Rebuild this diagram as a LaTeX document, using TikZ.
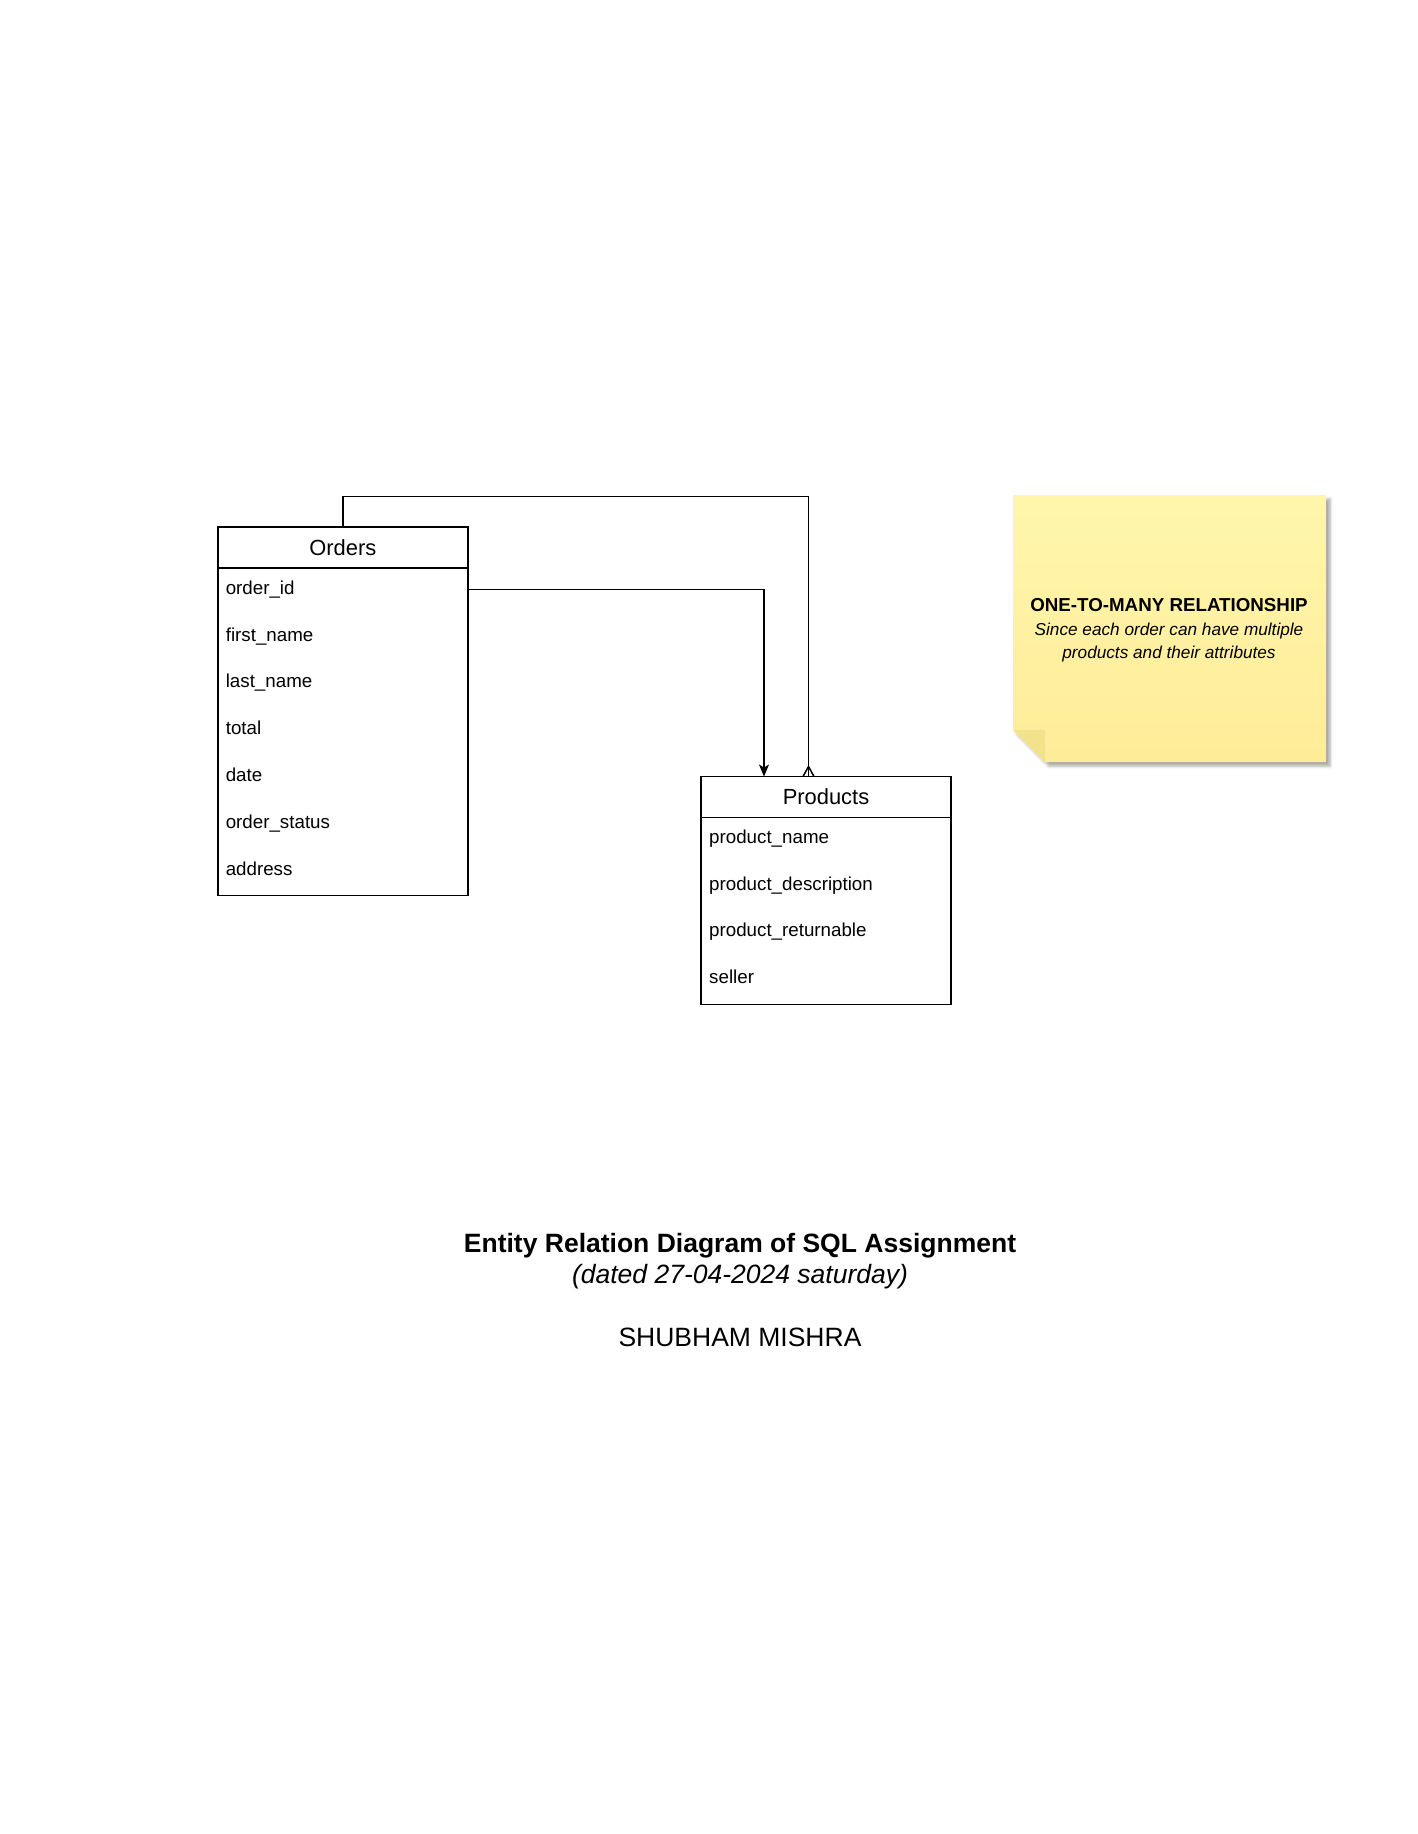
\documentclass[tikz,border=0pt]{standalone}
\usepackage{fontspec}
\setmainfont{Liberation Sans}
\usetikzlibrary{arrows.meta,calc,positioning,shadows.blur}
\usepackage{xcolor}
\definecolor{notetop}{RGB}{255,246,172}
\definecolor{notebot}{RGB}{255,236,153}
\definecolor{notefold}{RGB}{243,226,140}

\tikzset{
  entity/.style={draw,line width=1.5,outer sep=0,minimum width=250,minimum height=41,inner sep=0,
    font=\fontsize{21.9}{26}\selectfont},
  tablebody/.style={draw,line width=1.5,outer sep=0,minimum width=250,inner sep=0},
  field/.style={anchor=west,text width=234,inner xsep=8,inner ysep=0,align=left,
    text height=13.5,text depth=4,font=\fontsize{18.75}{22}\selectfont},
  link/.style={line width=1.5,black},
}

\begin{document}
\begin{tikzpicture}[x=1pt,y=-1pt]
  \useasboundingbox (0,0) rectangle (1417,1834);

  % orders table
  \node[entity] (orders) at (342.8,547.5) {Orders};
  \node[tablebody,minimum height=327.5,below=0pt of orders] (ordersbody) {};
  \foreach \f [count=\i] in {order\_id,first\_name,last\_name,total,date,order\_status,address}
    \node[field] (o\i) at (217.6,{589.5+46.8*(\i-1)}) {\f};

  % products table
  \node[entity] (products) at (826,797) {Products};
  \node[tablebody,minimum height=187,below=0pt of products] (productsbody) {};
  \foreach \f [count=\i] in {product\_name,product\_description,product\_returnable,seller}
    \node[field] (p\i) at (701,{838.5+46.8*(\i-1)}) {\f};

  % relations
  \coordinate (oneend) at ([xshift=-62]products.north);
  \coordinate (manyend) at ([xshift=-17.5]products.north);
  \draw[link,-{Stealth[length=12pt,width=10pt,inset=3pt]}] (o1.east) -| (oneend);
  \draw[link] (orders.north) -- ++(0,-30.6) -| (manyend);
  \draw[link] ($(manyend)+(0,-10)$) coordinate (fork) -- ($(manyend)+(-5.5,0)$)
    (fork) -- ($(manyend)+(5.5,0)$);

  % sticky note
  \shade[top color=notetop,bottom color=notebot,
    blur shadow={shadow xshift=4pt,shadow yshift=-4pt,shadow blur radius=3pt,shadow opacity=35}]
    (1013,495) -- (1326,495) -- (1326,762) -- (1045,762) -- (1013,730) -- cycle;
  \fill[notefold] (1013,730) -- (1045,730) -- (1045,762) -- cycle;
  \node[align=center,font=\fontsize{17.2}{23.5}\selectfont] (notetext) at (1169,630.5)
    {{\bfseries\fontsize{18.75}{23.5}\selectfont ONE-TO-MANY RELATIONSHIP}\\
     {\itshape Since each order can have multiple}\\
     {\itshape products and their attributes}};

  % caption
  \node[font=\fontsize{26.5}{31}\selectfont\bfseries] (title) at (740,1245.5)
    {Entity Relation Diagram of SQL Assignment};
  \node[font=\fontsize{26.5}{31}\selectfont\itshape] (dated) at (740,1276.5)
    {(dated 27-04-2024 saturday)};
  \node[font=\fontsize{26.5}{31}\selectfont] (author) at (740,1337.5) {SHUBHAM MISHRA};
\end{tikzpicture}
\end{document}
